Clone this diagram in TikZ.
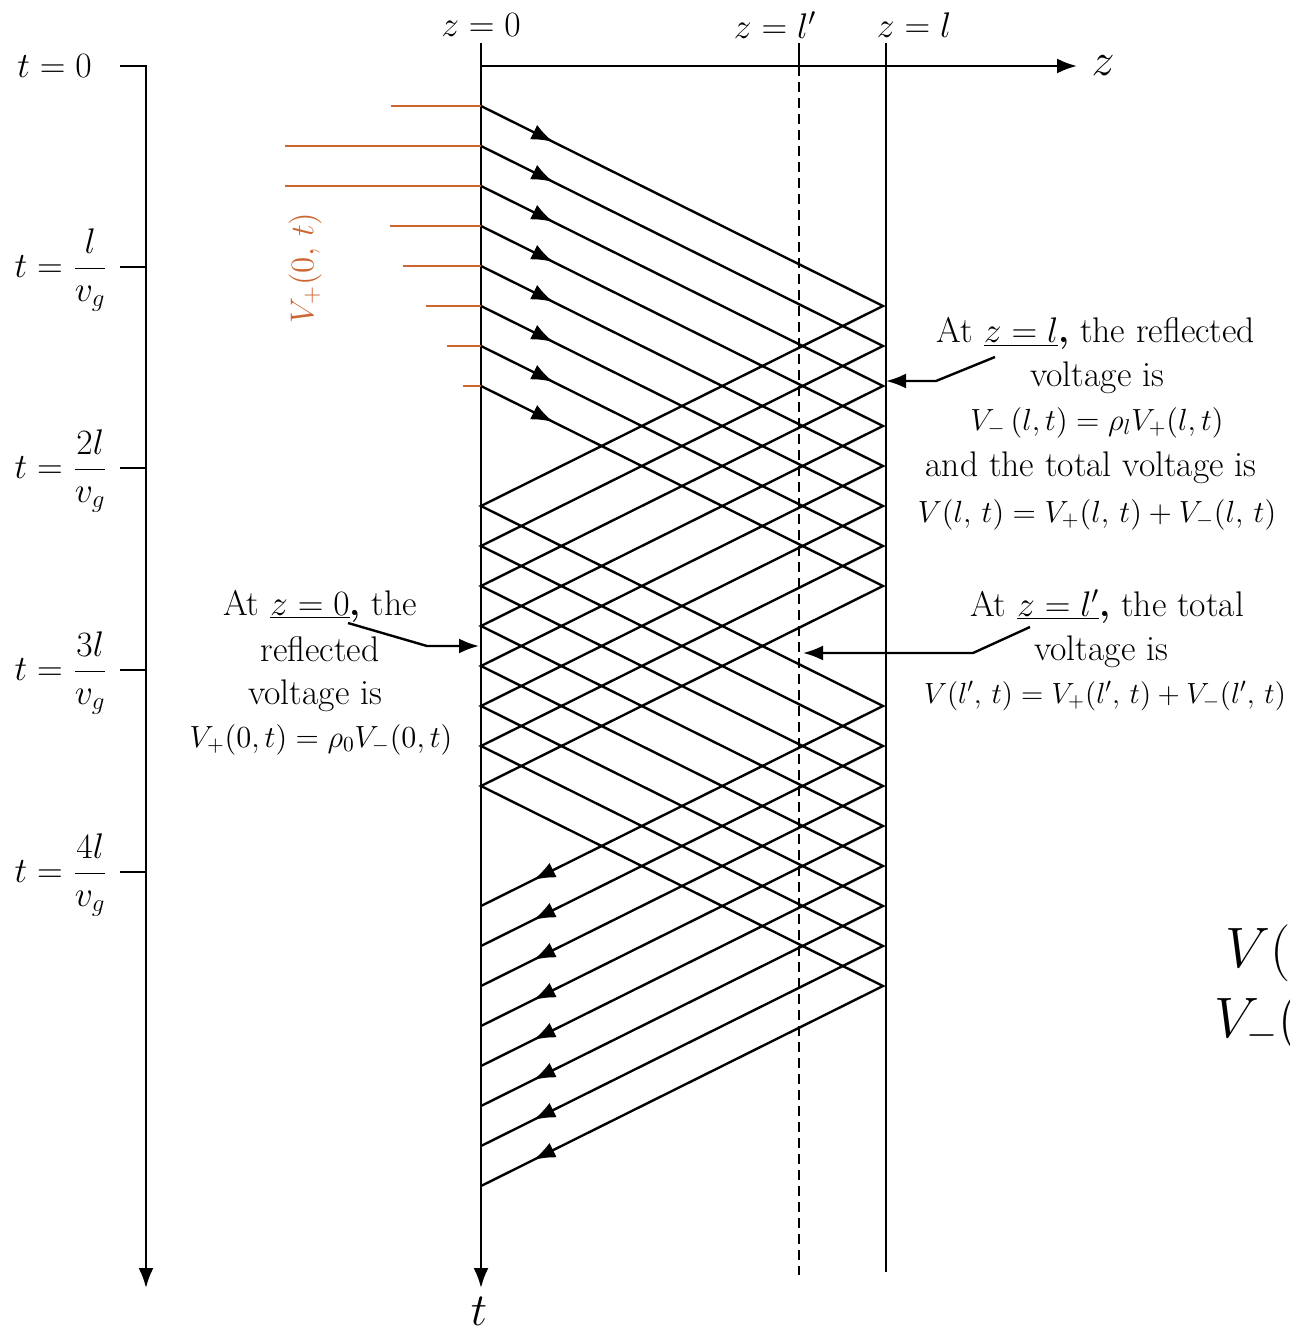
\RequirePackage{fix-cm}
\documentclass[tikz,border=0pt]{standalone}
\usetikzlibrary{arrows.meta,decorations.markings}
\definecolor{vorange}{RGB}{204,102,51}
\begin{document}
\begin{tikzpicture}[x=0.5pt,y=-0.5pt,line width=1.2pt,
  txt/.style={font=\fontsize{17.8}{20}\selectfont,inner sep=0pt},
  fml/.style={font=\fontsize{15.3}{18}\selectfont,inner sep=0pt},
  bigtxt/.style={font=\fontsize{23}{25}\selectfont,inner sep=0pt},
  hugetxt/.style={font=\fontsize{28.5}{30}\selectfont,inner sep=0pt},
  tip/.style={-{Latex[length=10pt,width=7.5pt]}},
  wave/.style={postaction=decorate,decoration={markings,
     mark=at position 0.045 with {\arrow{Latex[length=11pt,width=8pt]}},
     mark=at position 0.9675 with {\arrow{Latex[length=11pt,width=8pt]}}}},
  feed/.style={draw=vorange,line width=1.1pt},
  dashline/.style={dash pattern=on 5pt off 3pt}]
\useasboundingbox (0,0) rectangle (1289,1331);

% left time axis
\draw[tip] (120,66) -- (146,66) -- (146,1288);
\foreach \yy in {267,468,670,872} \draw (120,\yy) -- (146,\yy);
\node[txt,anchor=east] (t0) at (93,66) {$t=0$};
\node[txt,anchor=east] (t1) at (109,270) {$\displaystyle t=\frac{l}{v_g}$};
\node[txt,anchor=east] (t2) at (109,471) {$\displaystyle t=\frac{2l}{v_g}$};
\node[txt,anchor=east] (t3) at (109,673) {$\displaystyle t=\frac{3l}{v_g}$};
\node[txt,anchor=east] (t4) at (109,875) {$\displaystyle t=\frac{4l}{v_g}$};

% z = 0 line (t axis) and z axis
\draw[tip] (481,43) -- (481,1288);
\node[bigtxt] (tlab) at (479,1311) {$t$};
\draw[tip] (481,66) -- (1077,66);
\node[bigtxt] (zlab) at (1103,66) {$z$};

% z = l' and z = l
\draw (799,43) -- (799,66);
\draw[dashline] (799,66) -- (799,1275);
\draw (886,43) -- (886,1272);
\node[txt] (lz0) at (481,25) {$z=0$};
\node[txt] (lzp) at (775,25) {$z=l'$};
\node[txt] (lzl) at (914,25) {$z=l$};

% orange input lines
\draw[feed] (391,106) -- (481,106);
\draw[feed] (285,146) -- (481,146);
\draw[feed] (285,186) -- (481,186);
\draw[feed] (390,226) -- (481,226);
\draw[feed] (403,266) -- (481,266);
\draw[feed] (426,306) -- (481,306);
\draw[feed] (447,346) -- (481,346);
\draw[feed] (463,386) -- (481,386);
\node[font=\fontsize{16.5}{20}\selectfont,inner sep=0pt,text=vorange,rotate=90] (vin) at (305,268) {$V_+(0,\,t)$};

% bouncing waves
\foreach \i in {0,...,7}{
  \pgfmathsetmacro{\ys}{106+40*\i}
  \draw[wave] (481,\ys) -- (883,\ys+200) -- (481,\ys+400) -- (883,\ys+600) -- (481,\ys+800);
}

% annotation at z = l
\node[txt,anchor=base] (al1) at (1096,343) {At \underline{$z=l$}\textbf{,} the reflected};
\node[txt,anchor=base] (al2) at (1097,387) {voltage is};
\node[fml,anchor=base] (al3) at (1097,430) {$V_-\,(l,t)=\rho_l V_+(l,t)$};
\node[txt,anchor=base] (al4) at (1091,476) {and the total voltage is};
\node[fml,anchor=base] (al5) at (1097,522) {$V(l,\,t)=V_+(l,\,t)+V_-(l,\,t)$};
\coordinate (c1a) at (995,357);
\coordinate (c1b) at (936,381);
\coordinate (c1c) at (886,381);
\draw[tip] (c1a) -- (c1b) -- (c1c);

% annotation at z = 0
\node[txt,anchor=base] (a01) at (320,615) {At \underline{$z=0$}\textbf{,} the};
\node[txt,anchor=base] (a02) at (320,661) {reflected};
\node[txt,anchor=base] (a03) at (315,704) {voltage is};
\node[fml,anchor=base] (a04) at (321,747) {$V_+(0,t)=\rho_0 V_-(0,t)$};
\coordinate (c0a) at (348,623);
\coordinate (c0b) at (427,646);
\coordinate (c0c) at (479,646);
\draw[tip] (c0a) -- (c0b) -- (c0c);

% annotation at z = l'
\node[txt,anchor=base] (ap1) at (1107,616) {At \underline{$z=l'$}\textbf{,} the total};
\node[txt,anchor=base] (ap2) at (1101,660) {voltage is};
\node[font=\fontsize{14.6}{18}\selectfont,inner sep=0pt,anchor=base] (ap3) at (1105,703) {$V(l',\,t)=V_+(l',\,t)+V_-(l',\,t)$};
\coordinate (cpa) at (1030,627);
\coordinate (cpb) at (973,653);
\coordinate (cpc) at (803,653);
\draw[tip] (cpa) -- (cpb) -- (cpc);

% cut-off text at right edge
\node[hugetxt,anchor=base west] (cut1) at (1224,967) {$V(l,t)$};
\node[hugetxt,anchor=base west] (cut2) at (1213,1037) {$V_-(l,t)$};
\end{tikzpicture}
\end{document}
